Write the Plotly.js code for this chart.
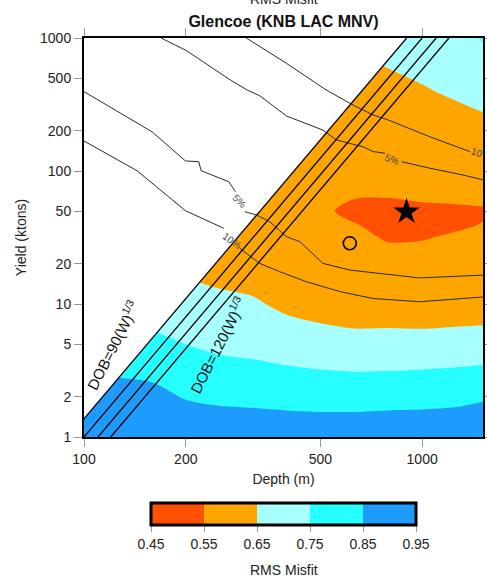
<!DOCTYPE html>
<html>
<head>
<meta charset="utf-8">
<script src="https://cdn.plot.ly/plotly-3.0.1.min.js"></script>
<style>html,body{margin:0;padding:0;background:#fff;}#plot{width:487px;height:583px;}</style>
</head>
<body>
<div id="plot"></div>
<script>
// Grid of the RMS misfit surface (depth in m, yield in ktons)
const depthGrid = [100,126,158,200,251,316,398,501,631,794,1000,1259,1520];
const yieldGrid = [1,1.585,2.512,3.981,6.31,10,15.85,25.12,31.62,39.81,50.12,63.1,79.43,100,158.5,251.2,398.1,631,1000];
const rmsMisfit = [
 [.92,.91,.91,.91,.90,.90,.90,.90,.90,.90,.90,.90,.90],
 [.894,.885,.882,.869,.859,.855,.85,.847,.847,.85,.852,.858,.87],
 [.867,.86,.854,.822,.808,.80,.789,.782,.779,.781,.786,.793,.81],
 [.823,.817,.804,.771,.754,.746,.732,.722,.715,.716,.719,.724,.727],
 [.777,.763,.751,.727,.712,.703,.672,.658,.652,.653,.652,.654,.655],
 [.73,.719,.707,.688,.671,.659,.635,.629,.627,.622,.622,.626,.63],
 [.69,.677,.663,.649,.635,.628,.618,.612,.602,.592,.593,.599,.604],
 [.65,.64,.635,.627,.612,.604,.601,.593,.578,.561,.563,.572,.579],
 [.643,.633,.626,.617,.602,.594,.592,.584,.565,.544,.546,.558,.565],
 [.636,.626,.618,.609,.594,.586,.583,.574,.5525,.53,.533,.54,.552],
 [.628,.619,.611,.602,.588,.58,.575,.563,.532,.522,.532,.54,.545],
 [.62,.613,.605,.597,.584,.576,.57,.562,.552,.551,.56,.56,.56],
 [.615,.608,.601,.594,.583,.575,.568,.565,.562,.56,.567,.57,.57],
 [.612,.605,.60,.594,.584,.576,.57,.569,.57,.569,.574,.578,.58],
 [.615,.61,.605,.60,.59,.582,.577,.578,.588,.59,.597,.605,.611],
 [.625,.62,.615,.61,.60,.592,.587,.588,.606,.611,.621,.632,.643],
 [.64,.635,.63,.625,.615,.605,.60,.60,.624,.632,.644,.66,.679],
 [.66,.655,.65,.645,.635,.622,.615,.614,.641,.653,.667,.693,.718],
 [.68,.675,.67,.665,.655,.64,.63,.628,.659,.674,.69,.726,.756]
];
const levels = [0.45,0.55,0.65,0.75,0.85,0.95];
const levelLabels = ['0.45','0.55','0.65','0.75','0.85','0.95'];
const bandColors = ['#FF4F00','#FFA500','#A8FFFF','#25FFFF','#1E9BFF'];

// DOB = k * W^(1/3) scaling lines
const dobK = [90,100,110,120];

// probability contours (depth m, yield kt)
const p5aDepth = [169,201,225,271,304,331,397,509,558,611,669,716,776,null,869,1053,1322,1520];
const p5aYield = [1000,803,663,483,406,368,259,203,171,162,152,140,136,null,117.5,105,93.3,85.6];
const p10aDepth = [302,362,397,521,584,625,716,793,1053,1384];
const p10aYield = [1000,745,645,406,342,313,264,242,181,140];
const p5bDepth = [100,159,199.5,218.5,222,268,280.5,null,299,324,354,397,435,509,611,984,1520];
const p5bYield = [395,197,119,117.5,100.5,83.1,69.9,null,49.4,46.7,41.6,32.1,29.4,20.2,18.0,15.7,16.5];
const p10bDepth = [100,143.5,199.5,259,null,289,331,379,455,571,716,984,1520];
const p10bYield = [168,100.5,50.3,37.1,null,26.2,20.2,17.5,14.7,12.4,11.0,10.4,11.3];

// contour labels: [text, depth, yield, angle]
const pLabels = [['5%',818,123,20],['10',1455,137.7,18],['5%',289,59,45],['10%',273.5,30,35]];

// best fit (star) and reference (circle) solutions
const bestDepth = [899], bestYield = [49.4];
const refDepth = [611], refYield = [28.6];

const FONT = 'Liberation Sans, Arial, Helvetica, sans-serif';

const cs = [];
bandColors.forEach((c,i)=>{ cs.push([i/bandColors.length, c]); cs.push([(i+1)/bandColors.length, c]); });

const traces = [];
traces.push({
  type:'contour', x: depthGrid, y: yieldGrid, z: rmsMisfit,
  autocontour:false,
  contours:{start:levels[0], end:levels[levels.length-1], size:0.1, coloring:'fill', showlines:false},
  line:{width:0, smoothing:0.8},
  colorscale: cs, showscale:false,
  hoverinfo:'skip'
});
// masked region above shallowest DOB line
const k0 = dobK[0];
traces.push({type:'scatter', mode:'lines', x:[k0, k0*10, k0], y:[1, 1000, 1000], fill:'toself',
  fillcolor:'#ffffff', line:{width:0, color:'rgba(0,0,0,0)'}, hoverinfo:'skip', showlegend:false});
// probability contours
[[p5aDepth,p5aYield],[p10aDepth,p10aYield],[p5bDepth,p5bYield],[p10bDepth,p10bYield]].forEach(p=>{
  traces.push({type:'scatter', mode:'lines', x:p[0], y:p[1], connectgaps:false,
    line:{color:'#2a2a2a', width:1}, hoverinfo:'skip', showlegend:false});
});
// DOB lines
dobK.forEach(k=>{
  traces.push({type:'scatter', mode:'lines', x:[k, k*10], y:[1, 1000],
    line:{color:'#000', width:1.3}, hoverinfo:'skip', showlegend:false});
});
traces.push({type:'scatter', mode:'markers', x:bestDepth, y:bestYield,
  marker:{symbol:'star', size:20, color:'#000'}, hoverinfo:'skip', showlegend:false});
traces.push({type:'scatter', mode:'markers', x:refDepth, y:refYield,
  marker:{symbol:'circle-open', size:13, color:'#000', line:{width:1.6, color:'#000'}}, hoverinfo:'skip', showlegend:false});
// colour key (markers sit outside the axis range, only the colour bar shows)
traces.push({type:'scatter', mode:'markers', x:levels.map(()=>10), y:levels.map(()=>10),
  hoverinfo:'skip', showlegend:false,
  marker:{size:1, color:levels, colorscale:cs, cmin:levels[0], cmax:levels[levels.length-1], showscale:true,
    colorbar:{
      orientation:'h', x:0.5, xanchor:'center', y:-0.1654, yanchor:'top',
      len:265, lenmode:'pixels', thickness:22, thicknessmode:'pixels',
      xpad:0, ypad:0,
      outlinewidth:3, outlinecolor:'#000',
      ticks:'outside', ticklen:6, tickcolor:'#999', tickwidth:1,
      tickvals: levels, ticktext: levelLabels,
      tickfont:{family:FONT, size:14, color:'#222'}
    }}
});

const annotations = pLabels.map(l=>({
  x:Math.log10(l[1]), y:Math.log10(l[2]), xref:'x', yref:'y', text:l[0], showarrow:false,
  textangle:l[3], font:{family:FONT, size:10, color:'#444'}
}));
annotations.push({x:Math.log10(121.5), y:Math.log10(4.92), xref:'x', yref:'y', showarrow:false,
  text:'DOB=90(W)<sup>1/3</sup>', textangle:-63, font:{family:FONT, size:15, color:'#111'}});
annotations.push({x:Math.log10(248.5), y:Math.log10(4.92), xref:'x', yref:'y', showarrow:false,
  text:'DOB=120(W)<sup>1/3</sup>', textangle:-63, font:{family:FONT, size:15, color:'#111'}});
annotations.push({x:0.5, y:1.0977, xref:'paper', yref:'paper', yanchor:'middle', showarrow:false,
  text:'RMS Misfit', font:{family:FONT, size:14, color:'#222'}});
annotations.push({x:0.5, y:-0.3333, xref:'paper', yref:'paper', yanchor:'middle', showarrow:false,
  text:'RMS Misfit', font:{family:FONT, size:14, color:'#222'}});

const axisCommon = {
  type:'log', showgrid:false, zeroline:false, showline:true, linecolor:'#000', linewidth:2,
  mirror:'ticks', ticks:'outside', ticklen:8, tickwidth:1, tickcolor:'#999',
  tickfont:{family:FONT, size:14, color:'#222'}
};

const layout = {
  width:487, height:583,
  margin:{l:84, r:4, t:38, b:146, pad:0},
  paper_bgcolor:'#fff', plot_bgcolor:'#fff',
  showlegend:false,
  font:{family:FONT, color:'#222'},
  title:{text:'<b>Glencoe (KNB LAC MNV)</b>', font:{family:FONT, size:16, color:'#111'},
    x:0.5, xref:'paper', y:1-21/583, yref:'container', yanchor:'middle'},
  xaxis:Object.assign({}, axisCommon, {range:[2, 3.18], tickvals:[100,200,500,1000], ticktext:['100','200','500','1000'],
    title:{text:'Depth (m)', font:{family:FONT, size:14, color:'#222'}, standoff:8}}),
  yaxis:Object.assign({}, axisCommon, {range:[0, 3], tickvals:[1,2,5,10,20,50,100,200,500,1000],
    ticktext:['1','2','5','10','20','50','100','200','500','1000'],
    title:{text:'Yield (ktons)', font:{family:FONT, size:14, color:'#222'}, standoff:10}}),
  annotations:annotations
};

Plotly.newPlot('plot', traces, layout, {displayModeBar:false, staticPlot:true});
</script>
</body>
</html>
